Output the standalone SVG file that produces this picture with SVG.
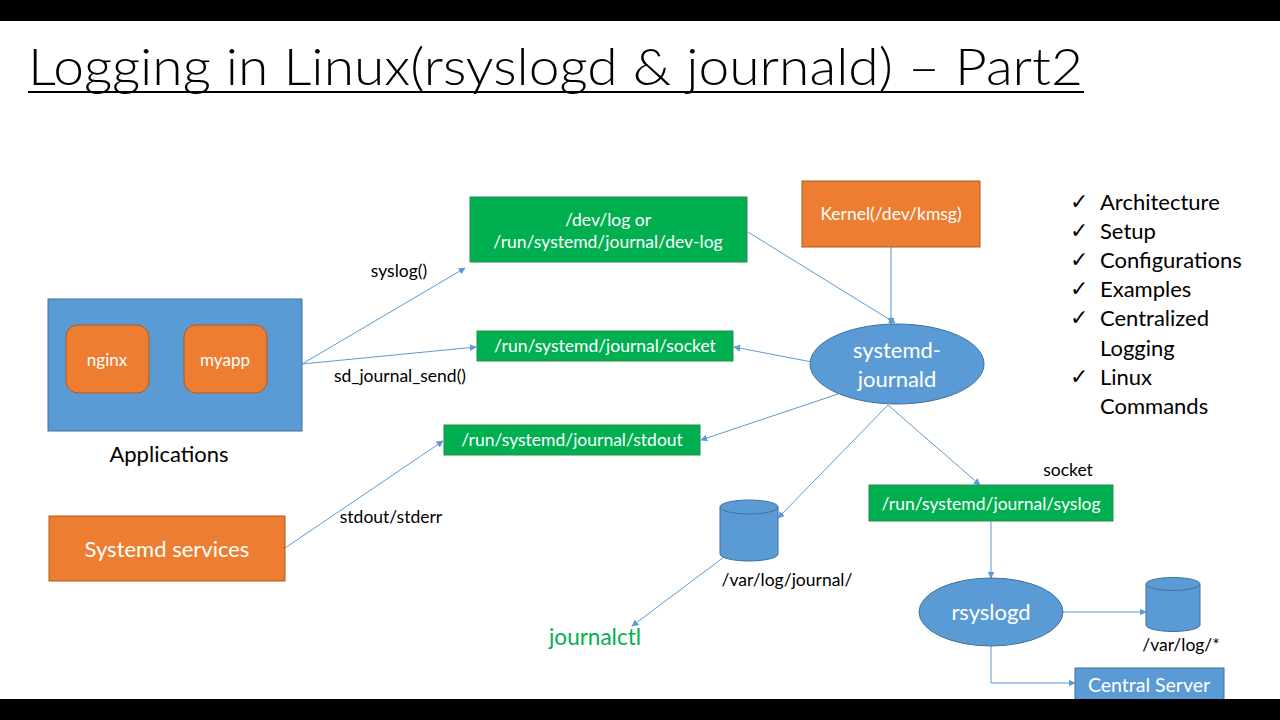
<svg xmlns="http://www.w3.org/2000/svg" width="1280" height="720" viewBox="0 0 1280 720">
<defs>
<marker id="ah" viewBox="0 0 10 10" refX="9" refY="5" markerWidth="7" markerHeight="7" markerUnits="userSpaceOnUse" orient="auto"><path d="M0,0 L10,5 L0,10 z" fill="#5b9bd5"/></marker>
<style>
text{font-family:Lato,"Open Sans","Liberation Sans",sans-serif}
.blue{fill:#5b9bd5;stroke:#41719c;stroke-width:1}
.orange{fill:#ed7d31;stroke:#ae5a21;stroke-width:1}
.green{fill:#00b050;stroke:#2f8a4d;stroke-width:1}
.w{fill:#fff;text-anchor:middle}
.k{fill:#000}
.c{fill:none;stroke:#5b9bd5;stroke-width:1;marker-end:url(#ah)}
</style>
</defs>
<rect x="0" y="0" width="1280" height="720" fill="#fff"/>
<rect x="0" y="0" width="1280" height="21" fill="#000"/>
<g id="title">
<text x="28" y="85" font-size="52" class="k" textLength="1055" lengthAdjust="spacingAndGlyphs" font-weight="300">Logging in Linux(rsyslogd &amp; journald) – Part2</text>
<line x1="28" y1="92" x2="1084" y2="92" stroke="#000" stroke-width="2"/>
</g>
<g id="connectors">
<path class="c" d="M302,364 L465,268"/>
<path class="c" d="M302,364 L476,347"/>
<path class="c" d="M285,548 L443,441"/>
<path class="c" d="M748,232 L895,323"/>
<path class="c" d="M891,247 L891,324"/>
<path class="c" d="M812,362 L734,347"/>
<path class="c" d="M838,394 L701,440"/>
<path class="c" d="M888,405 L778,518"/>
<path class="c" d="M888,405 L980,485"/>
<path class="c" d="M724,557 L632,626"/>
<path class="c" d="M991,521 L991,578"/>
<path class="c" d="M1063,612 L1146,612"/>
<path class="c" d="M991,646 L991,683 L1075,683"/>
</g>
<g id="labels" font-size="17.5">
<text x="399" y="277" class="k" text-anchor="middle">syslog()</text>
<text x="400" y="382" class="k" text-anchor="middle">sd_journal_send()</text>
<text x="391" y="523" class="k" text-anchor="middle">stdout/stderr</text>
<text x="1068" y="476" class="k" text-anchor="middle">socket</text>
</g>
<g id="applications">
<rect x="48" y="299" width="254" height="132" class="blue"/>
<text x="169" y="462" font-size="22" class="k" text-anchor="middle">Applications</text>
</g>
<g id="nginx">
<rect x="66" y="325" width="83" height="68" rx="12" class="orange"/>
<text x="107" y="366" font-size="17" class="w">nginx</text>
</g>
<g id="myapp">
<rect x="184" y="325" width="83" height="68" rx="12" class="orange"/>
<text x="225" y="366" font-size="17" class="w">myapp</text>
</g>
<g id="systemd-services">
<rect x="49" y="516" width="236" height="65" class="orange"/>
<text x="167" y="557" font-size="22" class="w">Systemd services</text>
</g>
<g id="devlog">
<rect x="470" y="197" width="277" height="65" class="green"/>
<text x="608" y="226" font-size="17.5" class="w">/dev/log or</text>
<text x="608" y="248" font-size="17.5" class="w">/run/systemd/journal/dev-log</text>
</g>
<g id="socket">
<rect x="477" y="331" width="256" height="30" class="green"/>
<text x="605" y="352" font-size="17.5" class="w">/run/systemd/journal/socket</text>
</g>
<g id="stdout">
<rect x="444" y="425" width="256" height="30" class="green"/>
<text x="572" y="446" font-size="17.5" class="w">/run/systemd/journal/stdout</text>
</g>
<g id="kernel">
<rect x="802" y="181" width="178" height="66" class="orange"/>
<text x="891" y="220" font-size="17.5" class="w">Kernel(/dev/kmsg)</text>
</g>
<g id="journald">
<ellipse cx="897" cy="364" rx="87" ry="40" class="blue"/>
<text x="897" y="358" font-size="22" class="w">systemd-</text>
<text x="897" y="387" font-size="22" class="w">journald</text>
</g>
<g id="syslog-socket">
<rect x="869" y="485" width="244" height="36" class="green"/>
<text x="991" y="510" font-size="17.5" class="w">/run/systemd/journal/syslog</text>
</g>
<g id="journal-db">
<path d="M720,507 L720,554 A29,7 0 0 0 778,554 L778,507" class="blue"/>
<ellipse cx="749" cy="507" rx="29" ry="7" class="blue"/>
<text x="787" y="586" font-size="17.5" class="k" text-anchor="middle">/var/log/journal/</text>
</g>
<g id="journalctl">
<text x="595" y="645" font-size="22.5" fill="#00b050" text-anchor="middle">journalctl</text>
</g>
<g id="rsyslogd">
<ellipse cx="991" cy="612" rx="72" ry="34" class="blue"/>
<text x="991" y="620" font-size="22" class="w">rsyslogd</text>
</g>
<g id="varlog-db">
<path d="M1146,584 L1146,625 A27,6.5 0 0 0 1200,625 L1200,584" class="blue"/>
<ellipse cx="1173" cy="584" rx="27" ry="6.5" class="blue"/>
<text x="1181" y="651" font-size="17.5" class="k" text-anchor="middle">/var/log/*</text>
</g>
<g id="central-server">
<rect x="1075" y="668" width="149" height="40" class="blue"/>
<text x="1149" y="692" font-size="19.5" class="w">Central Server</text>
</g>
<g id="checklist" font-size="22" class="k">
<text x="1070" y="209">✓</text><text x="1100" y="210">Architecture</text>
<text x="1070" y="238">✓</text><text x="1100" y="239">Setup</text>
<text x="1070" y="267">✓</text><text x="1100" y="268">Configurations</text>
<text x="1070" y="296">✓</text><text x="1100" y="297">Examples</text>
<text x="1070" y="325">✓</text><text x="1100" y="326">Centralized</text>
<text x="1100" y="356">Logging</text>
<text x="1070" y="384">✓</text><text x="1100" y="385">Linux</text>
<text x="1100" y="414">Commands</text>
</g>
<rect x="0" y="699" width="1280" height="21" fill="#000"/>
</svg>
